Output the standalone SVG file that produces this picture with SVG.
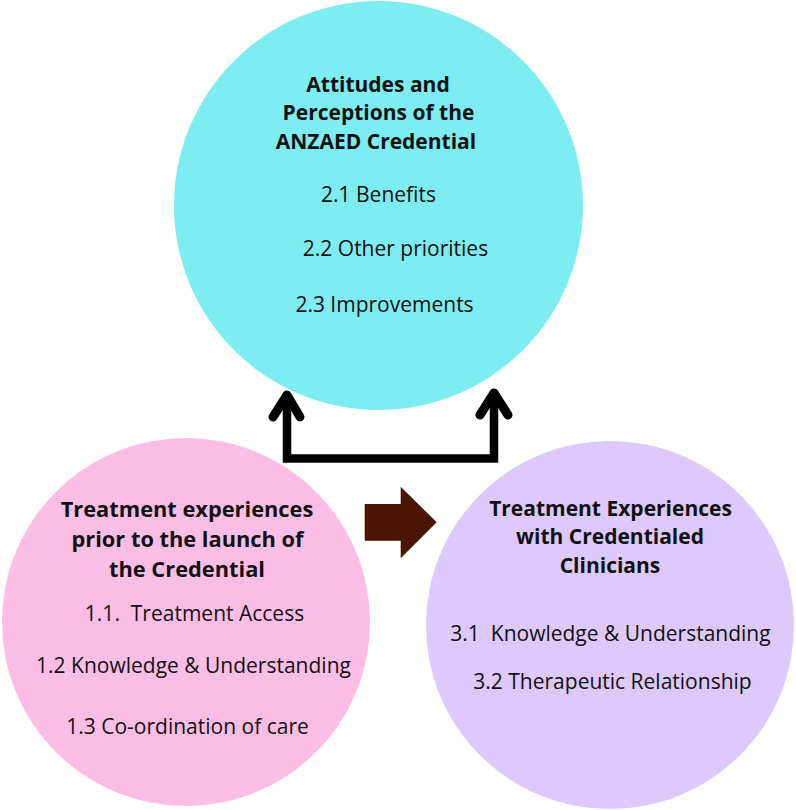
<svg xmlns="http://www.w3.org/2000/svg" width="796" height="810" viewBox="0 0 796 810">
<style>
.h{font-family:"Open Sans","Liberation Sans",sans-serif;font-weight:700;font-size:21px;fill:#111;text-anchor:middle}
.t{font-family:"Open Sans","Liberation Sans",sans-serif;font-weight:400;font-size:21px;fill:#111;text-anchor:middle}
.conn{fill:none;stroke:#000;stroke-width:8.5}
.head{fill:none;stroke:#000;stroke-width:9;stroke-linecap:round;stroke-linejoin:round}
</style>
<rect width="796" height="810" fill="#fff"/>
<g id="node-attitudes">
<circle cx="378.5" cy="205.5" r="204.5" fill="#7DEDF1"/>
<text class="h" x="378" y="92">Attitudes and</text>
<text class="h" x="378.5" y="120">Perceptions of the</text>
<text class="h" x="376" y="149">ANZAED Credential</text>
<text class="t" x="378.5" y="202">2.1 Benefits</text>
<text class="t" x="395.5" y="256">2.2 Other priorities</text>
<text class="t" x="384.5" y="312">2.3 Improvements</text>
</g>
<g id="node-prior">
<circle cx="186" cy="622" r="184" fill="#FDBEE6"/>
<text class="h" x="187" y="517" style="font-size:21.8px">Treatment experiences</text>
<text class="h" x="187.5" y="547" style="font-size:21.8px">prior to the launch of</text>
<text class="h" x="187" y="577" style="font-size:21.8px">the Credential</text>
<text class="t" x="194.5" y="621" xml:space="preserve">1.1.  Treatment Access</text>
<text class="t" x="193.5" y="673">1.2 Knowledge &amp; Understanding</text>
<text class="t" x="187.5" y="734">1.3 Co-ordination of care</text>
</g>
<g id="node-credentialed">
<circle cx="610" cy="625" r="184" fill="#DDC9FB"/>
<text class="h" x="610.5" y="516">Treatment Experiences</text>
<text class="h" x="610" y="544">with Credentialed</text>
<text class="h" x="610" y="573">Clinicians</text>
<text class="t" x="610.5" y="641" xml:space="preserve">3.1  Knowledge &amp; Understanding</text>
<text class="t" x="612.5" y="689">3.2 Therapeutic Relationship</text>
</g>
<g id="connectors">
<path class="conn" d="M287,397 V458.5 H494 V395"/>
<polyline class="head" points="273,417 287,395 300,417"/>
<polyline class="head" points="480,415 494,393 508,415"/>
<polygon fill="#4A1400" points="364.7,504 400.7,504 400.7,486.7 436.7,522.3 400.7,558.3 400.7,540.7 364.7,540.7"/>
</g>
</svg>
